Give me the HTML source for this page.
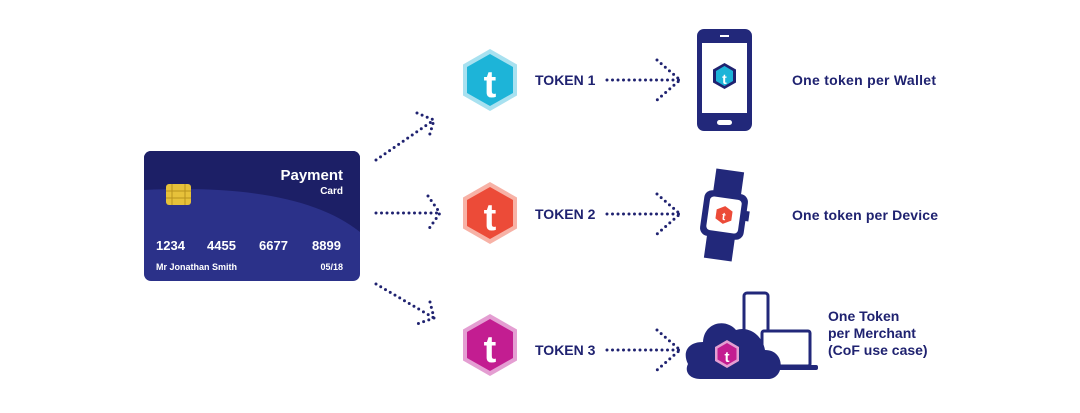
<!DOCTYPE html>
<html><head><style>
body{margin:0;background:#fff;width:1080px;height:413px;overflow:hidden}
svg{display:block}
text{font-family:"Liberation Sans",sans-serif;font-weight:bold;fill:#1f2270}
</style></head><body>
<svg width="1080" height="413" viewBox="0 0 1080 413">
<defs>
<clipPath id="cc"><rect x="144" y="151" width="216" height="130" rx="7"/></clipPath>
</defs>
<g clip-path="url(#cc)">
<rect x="144" y="151" width="216" height="130" fill="#2b3189"/>
<path d="M144 151 H360 V232 C320 200 250 185 144 190 Z" fill="#1c1f66"/>
</g>
<rect x="166" y="184" width="25" height="21" rx="3" fill="#e6c13a"/>
<path d="M172 184v21M185 184v21M166 191h25M166 198h25" stroke="#b8921e" stroke-width="1"/>
<text x="343" y="180" font-size="15" style="fill:#fff" text-anchor="end">Payment</text>
<text x="343" y="194" font-size="10" style="fill:#fff" text-anchor="end">Card</text>
<g font-size="13"><text x="156" y="250" style="fill:#fff">1234</text><text x="207" y="250" style="fill:#fff">4455</text><text x="259" y="250" style="fill:#fff">6677</text><text x="312" y="250" style="fill:#fff">8899</text></g>
<text x="156" y="270" font-size="9" style="fill:#fff">Mr Jonathan Smith</text>
<text x="343" y="270" font-size="9" style="fill:#fff" text-anchor="end">05/18</text>

<g fill="none" stroke="#1f2270" stroke-width="3" stroke-linecap="round" stroke-dasharray="0 5.5">
<path d="M376 160 L434 120"/><path d="M417 113 L434 120 L429 137"/>
<path d="M376 213 L440 213"/><path d="M428 196 L440 213 L428 230"/>
<path d="M376 284 L434 318"/><path d="M430 302 L434 318 L417 324"/>
<path d="M607 80 L680 80"/><path d="M657 60 L680 80 L657 100"/>
<path d="M607 214 L680 214"/><path d="M657 194 L680 214 L657 234"/>
<path d="M607 350 L680 350"/><path d="M657 330 L680 350 L657 370"/>
</g>

<g>
<polygon points="490,49 517,64.5 517,95.5 490,111 463,95.5 463,64.5" fill="#a8e1f0"/>
<polygon points="490,54 513,67 513,93 490,106 467,93 467,67" fill="#1db4d8"/>
<text x="490" y="97" font-size="38" style="fill:#fff" text-anchor="middle">t</text>
</g>
<g>
<polygon points="490,182 517,197.5 517,228.5 490,244 463,228.5 463,197.5" fill="#f7b2a6"/>
<polygon points="490,187 513,200 513,226 490,239 467,226 467,200" fill="#ec4b38"/>
<text x="490" y="230" font-size="38" style="fill:#fff" text-anchor="middle">t</text>
</g>
<g>
<polygon points="490,314 517,329.5 517,360.5 490,376 463,360.5 463,329.5" fill="#e49ed2"/>
<polygon points="490,319 513,332 513,358 490,371 467,358 467,332" fill="#c31d91"/>
<text x="490" y="362" font-size="38" style="fill:#fff" text-anchor="middle">t</text>
</g>
<text x="535" y="85" font-size="14">TOKEN 1</text>
<text x="535" y="219" font-size="14">TOKEN 2</text>
<text x="535" y="355" font-size="14">TOKEN 3</text>

<rect x="697" y="29" width="55" height="102" rx="7" fill="#22287a"/>
<rect x="702" y="43" width="45" height="70" fill="#fff"/>
<rect x="720" y="35" width="9" height="2" fill="#fff"/>
<rect x="717" y="120" width="15" height="5" rx="2.5" fill="#fff"/>
<polygon points="724.5,63 736,69.5 736,82.5 724.5,89 713,82.5 713,69.5" fill="#1f2270"/>
<polygon points="724.5,66 733,71 733,81 724.5,86 716,81 716,71" fill="#1db4d8"/>
<text x="724.5" y="84" font-size="14" style="fill:#fff" text-anchor="middle">t</text>

<g transform="rotate(8 724 215)">
<rect x="710" y="170" width="28" height="90" fill="#22287a"/>
<rect x="702" y="192" width="44" height="46" rx="8" fill="#22287a"/>
<rect x="708" y="198" width="32" height="34" rx="4" fill="#fff"/>
<rect x="745" y="208" width="4" height="10" fill="#22287a"/>
<polygon points="724,206 732,210.5 732,219.5 724,224 716,219.5 716,210.5" fill="#ec4b38"/>
<text x="724" y="220" font-size="11" style="fill:#fff" text-anchor="middle">t</text>
</g>

<rect x="744" y="293" width="24" height="52" rx="3" fill="#fff" stroke="#22287a" stroke-width="3"/>
<rect x="762" y="331" width="48" height="35" rx="2" fill="#fff" stroke="#22287a" stroke-width="3"/>
<rect x="752" y="365" width="66" height="5" rx="2" fill="#22287a"/>
<path d="M700 379 H768 C785 379 786 350 765 350 C762 334 748 326 736 330 C726 318 704 322 703 342 C688 342 682 352 688 364 C684 372 690 379 700 379 Z" fill="#22287a"/>
<polygon points="727,340 739,347 739,361 727,368 715,361 715,347" fill="#e49ed2"/>
<polygon points="727,343 736.5,348.5 736.5,359.5 727,365 717.5,359.5 717.5,348.5" fill="#c31d91"/>
<text x="727" y="362" font-size="15" style="fill:#fff" text-anchor="middle">t</text>

<text x="792" y="85" font-size="14" textLength="144">One token per Wallet</text>
<text x="792" y="220" font-size="14" textLength="146">One token per Device</text>
<text x="828" y="321" font-size="14">One Token</text>
<text x="828" y="338" font-size="14">per Merchant</text>
<text x="828" y="355" font-size="14">(CoF use case)</text>
</svg>
</body></html>
